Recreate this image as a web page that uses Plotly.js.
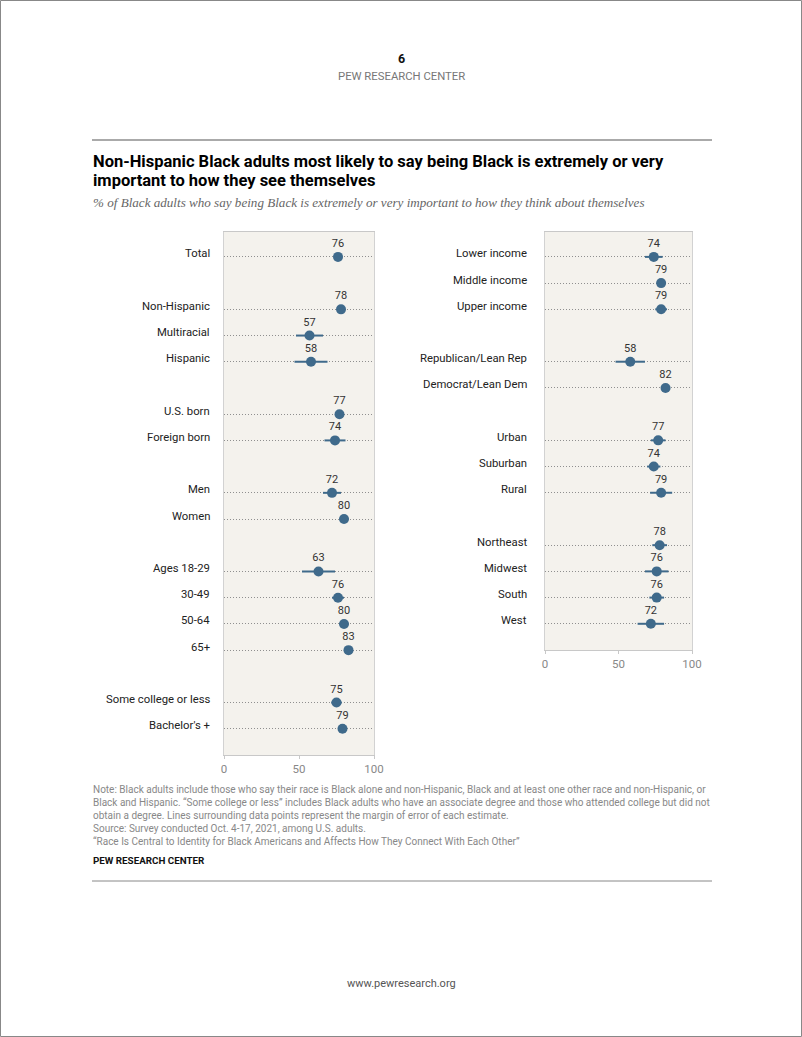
<!DOCTYPE html>
<html>
<head>
<meta charset="utf-8">
<script src="https://cdn.plot.ly/plotly-3.0.1.min.js"></script>
<style>
html,body{margin:0;padding:0;background:#fff;}
#chart{width:802px;height:1037px;}
</style>
</head>
<body>
<div id="chart"></div>
<script>
// ---- Data ----
const leftGroups = [
  ["Total"],
  ["Non-Hispanic", "Multiracial", "Hispanic"],
  ["U.S. born", "Foreign born"],
  ["Men", "Women"],
  ["Ages 18-29", "30-49", "50-64", "65+"],
  ["Some college or less", "Bachelor's +"]
];
const leftValues = [76, 78, 57, 58, 77, 74, 72, 80, 63, 76, 80, 83, 75, 79];
const leftMoe    = [2, 2, 9, 11, 2, 7, 6, 3, 11, 4, 3, 3, 3.5, 2.5];

const rightGroups = [
  ["Lower income", "Middle income", "Upper income"],
  ["Republican/Lean Rep", "Democrat/Lean Dem"],
  ["Urban", "Suburban", "Rural"],
  ["Northeast", "Midwest", "South", "West"]
];
const rightValues = [74, 79, 79, 58, 82, 77, 74, 79, 78, 76, 76, 72];
const rightMoe    = [6, 3, 4, 10, 2.5, 5, 4.5, 7.5, 5, 8, 5, 9];

const xTicks = [0, 50, 100];

const titleLines = [
  "Non-Hispanic Black adults most likely to say being Black is extremely or very",
  "important to how they see themselves"
];
const subtitle = "% of Black adults who say being Black is extremely or very important to how they think about themselves";
const noteLines = [
  "Note: Black adults include those who say their race is Black alone and non-Hispanic, Black and at least one other race and non-Hispanic, or",
  "Black and Hispanic. \u201cSome college or less\u201d includes Black adults who have an associate degree and those who attended college but did not",
  "obtain a degree. Lines surrounding data points represent the margin of error of each estimate.",
  "Source: Survey conducted Oct. 4-17, 2021, among U.S. adults.",
  "\u201cRace Is Central to Identity for Black Americans and Affects How They Connect With Each Other\u201d"
];

// ---- Layout helpers ----
const W = 802, H = 1037;
const px = x => x / W;
const py = y => 1 - y / H;
const NARROW = "Roboto, 'Liberation Sans', sans-serif";
const SANS = "Roboto, 'Liberation Sans', Arial, sans-serif";
const DOT = "#3f6a8b";

function rowsFor(groups) {
  const labels = [], rows = [];
  let r = 0;
  groups.forEach((g, gi) => {
    if (gi > 0) r += 1;
    g.forEach(l => { labels.push(l); rows.push(r); r += 1; });
  });
  return {labels, rows, nRows: r};
}
const L = rowsFor(leftGroups);
const R = rowsFor(rightGroups);

function trace(vals, moe, rows, xa, ya) {
  return {
    type: "scatter", mode: "markers+text",
    x: vals, y: rows, xaxis: xa, yaxis: ya,
    text: vals.map(String), textposition: "top center",
    textfont: {family: SANS, size: 11, color: "#333"},
    marker: {size: 10, color: DOT},
    error_x: {type: "data", array: moe, visible: true, color: DOT, thickness: 2, width: 0},
    hoverinfo: "skip", showlegend: false, cliponaxis: false
  };
}

const annotations = [];
function rowLabels(lab, ya, xRight) {
  lab.labels.forEach((t, i) => annotations.push({
    text: t, xref: "paper", yref: ya, x: px(xRight), y: lab.rows[i],
    xanchor: "right", yanchor: "middle", yshift: 3, showarrow: false,
    font: {family: SANS, size: 11.3, color: "#222"}
  }));
}
rowLabels(L, "y", 212);
rowLabels(R, "y2", 529);

function txt(t, x, y, opts) {
  annotations.push(Object.assign({
    text: t, xref: "paper", yref: "paper", x: px(x), y: py(y),
    xanchor: "left", yanchor: "middle", showarrow: false,
    font: {family: SANS, size: 11, color: "#000"}
  }, opts || {}));
}
txt("<b>6</b>", 401, 58, {xanchor: "center", font: {family: SANS, size: 12.5, color: "#111"}});
txt("PEW RESEARCH CENTER", 401, 77, {xanchor: "center", font: {family: NARROW, size: 11.3, color: "#777"}});
txt("<b>" + titleLines[0] + "</b>", 91, 161, {font: {family: NARROW, size: 16.5, color: "#000"}});
txt("<b>" + titleLines[1] + "</b>", 91, 181, {font: {family: NARROW, size: 16.5, color: "#000"}});
txt("<i>" + subtitle + "</i>", 91, 203, {font: {family: "'Liberation Serif', 'DejaVu Serif', serif", size: 13.1, color: "#666"}});
noteLines.forEach((t, i) => txt(t, 91, 789 + i * 13, {font: {family: NARROW, size: 10, color: "#888"}}));
txt("<b>PEW RESEARCH CENTER</b>", 91, 860, {font: {family: NARROW, size: 9.8, color: "#111"}});
txt("www.pewresearch.org", 401, 983, {xanchor: "center", font: {family: SANS, size: 11, color: "#555"}});

const shapes = [
  {type: "line", xref: "paper", yref: "paper", x0: px(92), x1: px(712), y0: py(140), y1: py(140), line: {color: "#aaa", width: 2}},
  {type: "line", xref: "paper", yref: "paper", x0: px(92), x1: px(712), y0: py(881), y1: py(881), line: {color: "#888", width: 1}},
  {type: "rect", xref: "paper", yref: "paper", x0: px(0.5), x1: px(801.5), y0: py(1036.5), y1: py(0.5), line: {color: "#888", width: 1}}
];

function yax(lab, top, bottom) {
  return {
    domain: [py(bottom), py(top)],
    range: [lab.nRows - 1 + 1.0, -0.95],
    tickvals: lab.rows, showticklabels: false, ticks: "",
    showgrid: true, gridcolor: "#8f8f8f", griddash: "1px,2px", gridwidth: 1,
    zeroline: false, showline: true, mirror: true, linecolor: "#d2d2d2", linewidth: 1,
    fixedrange: true
  };
}
function xax(left, right) {
  return {
    domain: [px(left), px(right)], range: [0, 100],
    tickvals: xTicks, ticks: "outside", ticklen: 3, tickcolor: "#c8c8c8",
    tickfont: {family: SANS, size: 11.5, color: "#888"},
    showgrid: false, zeroline: false, showline: true, mirror: true,
    linecolor: "#c8c8c8", linewidth: 1, fixedrange: true
  };
}

const layout = {
  width: W, height: H, margin: {l: 0, r: 0, t: 0, b: 0},
  paper_bgcolor: "#fff", plot_bgcolor: "#f4f2ed",
  xaxis: Object.assign(xax(224, 374), {anchor: "y"}),
  yaxis: Object.assign(yax(L, 232, 755), {anchor: "x"}),
  xaxis2: Object.assign(xax(545, 692), {anchor: "y2"}),
  yaxis2: Object.assign(yax(R, 232, 650), {anchor: "x2"}),
  annotations, shapes, showlegend: false
};

Plotly.newPlot("chart", [
  trace(leftValues, leftMoe, L.rows, "x", "y"),
  trace(rightValues, rightMoe, R.rows, "x2", "y2")
], layout, {staticPlot: true, displayModeBar: false});
</script>
</body>
</html>
